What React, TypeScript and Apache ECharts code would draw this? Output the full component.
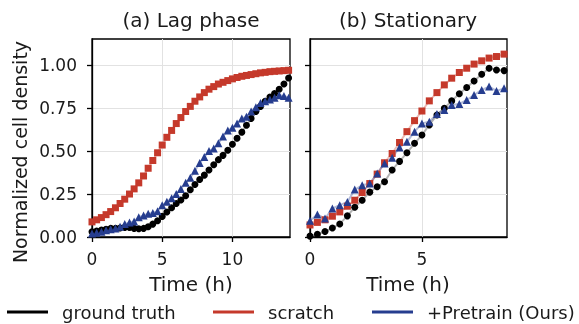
import React, { useEffect, useRef } from "react";
import * as echarts from "echarts";

// ---- data (time in hours, values = normalized cell density) ----
const lagTime = [0, 0.33, 0.67, 1, 1.33, 1.67, 2, 2.33, 2.67, 3, 3.33, 3.67, 4, 4.33, 4.67, 5, 5.33, 5.67, 6, 6.33, 6.67, 7, 7.33, 7.67, 8, 8.33, 8.67, 9, 9.33, 9.67, 10, 10.33, 10.67, 11, 11.33, 11.67, 12, 12.33, 12.67, 13, 13.33, 13.67, 14];
const lagTruth = [0.03, 0.035, 0.04, 0.045, 0.05, 0.05, 0.052, 0.055, 0.055, 0.05, 0.048, 0.05, 0.06, 0.075, 0.095, 0.12, 0.145, 0.17, 0.195, 0.215, 0.24, 0.275, 0.305, 0.335, 0.36, 0.39, 0.42, 0.45, 0.475, 0.505, 0.54, 0.575, 0.61, 0.65, 0.69, 0.73, 0.76, 0.79, 0.815, 0.835, 0.86, 0.89, 0.925];
const lagScratch = [0.088, 0.1, 0.113, 0.13, 0.148, 0.17, 0.195, 0.22, 0.25, 0.28, 0.315, 0.355, 0.4, 0.445, 0.49, 0.535, 0.58, 0.62, 0.66, 0.695, 0.73, 0.76, 0.79, 0.815, 0.84, 0.86, 0.875, 0.89, 0.9, 0.91, 0.92, 0.928, 0.935, 0.94, 0.945, 0.95, 0.955, 0.958, 0.962, 0.964, 0.966, 0.968, 0.97];
const lagPretrain = [0.02, 0.025, 0.03, 0.04, 0.045, 0.05, 0.06, 0.075, 0.085, 0.09, 0.115, 0.125, 0.135, 0.14, 0.15, 0.185, 0.205, 0.225, 0.25, 0.28, 0.315, 0.345, 0.385, 0.43, 0.465, 0.5, 0.515, 0.545, 0.585, 0.62, 0.635, 0.66, 0.69, 0.7, 0.73, 0.755, 0.78, 0.79, 0.8, 0.81, 0.825, 0.82, 0.81];

const statTime = [0, 0.33, 0.67, 1, 1.33, 1.67, 2, 2.33, 2.67, 3, 3.33, 3.67, 4, 4.33, 4.67, 5, 5.33, 5.67, 6, 6.33, 6.67, 7, 7.33, 7.67, 8, 8.33, 8.67];
const statTruth = [0.005, 0.016, 0.032, 0.052, 0.076, 0.123, 0.173, 0.214, 0.261, 0.292, 0.321, 0.39, 0.44, 0.49, 0.545, 0.593, 0.652, 0.71, 0.749, 0.792, 0.833, 0.87, 0.908, 0.947, 0.982, 0.972, 0.968];
const statScratch = [0.07, 0.085, 0.1, 0.121, 0.146, 0.179, 0.214, 0.259, 0.311, 0.366, 0.432, 0.486, 0.55, 0.613, 0.677, 0.733, 0.792, 0.84, 0.885, 0.924, 0.957, 0.982, 1.006, 1.025, 1.041, 1.05, 1.064];
const statPretrain = [0.094, 0.131, 0.107, 0.166, 0.185, 0.204, 0.276, 0.301, 0.311, 0.37, 0.428, 0.461, 0.521, 0.554, 0.613, 0.661, 0.671, 0.716, 0.739, 0.768, 0.774, 0.797, 0.826, 0.856, 0.875, 0.85, 0.865];

const yTicks = [0, 0.25, 0.5, 0.75, 1];
const lagXTicks = [0, 5, 10];
const statXTicks = [0, 5];

const seriesNames = ["ground truth", "scratch", "+Pretrain (Ours)"];
const panelTitles = ["(a) Lag phase", "(b) Stationary"];
const xTitle = "Time (h)";
const yTitle = "Normalized cell density";

const FONT = "DejaVu Sans";
const BLACK = "#000000";
const RED = "#c5392b";
const BLUE = "#263d8f";
const TEXT = "#1a1a1a";

const zip = (xs: number[], ys: number[]) => xs.map((x, i) => [x, ys[i]]);

export default function App() {
  const ref = useRef<HTMLDivElement>(null);
  useEffect(() => {
    if (!ref.current) return;
    const chart = echarts.init(ref.current, undefined, { renderer: "svg" });

    const grids = [
      { left: 92, top: 39, width: 198, height: 198 },
      { left: 310, top: 39, width: 197, height: 198 },
    ];

    const xAxis = (gi: number, max: number, ticks: number[]) => ({
      type: "value",
      gridIndex: gi,
      min: 0,
      max,
      interval: 5,
      axisLine: { show: true, lineStyle: { color: "#000", width: 1.3 } },
      axisTick: { show: true, length: 5, customValues: ticks, lineStyle: { color: "#000", width: 1.3 } },
      axisLabel: { customValues: ticks, fontSize: 17, color: TEXT, fontFamily: FONT, margin: 13 },
      splitLine: { show: true, lineStyle: { color: "#e2e2e2", width: 1 } },
    });
    const yAxis = (gi: number, showLabel: boolean) => ({
      type: "value",
      gridIndex: gi,
      min: 0,
      max: 1.152,
      interval: 0.25,
      axisLine: { show: true, lineStyle: { color: "#000", width: 1.3 } },
      axisTick: { show: true, length: 5, customValues: yTicks, lineStyle: { color: "#000", width: 1.3 } },
      axisLabel: {
        show: showLabel,
        customValues: yTicks,
        fontSize: 17,
        color: TEXT,
        fontFamily: FONT,
        margin: 15,
        formatter: (v: number) => v.toFixed(2),
      },
      splitLine: { show: true, lineStyle: { color: "#e2e2e2", width: 1 } },
    });

    const mk = (name: string, gi: number, xs: number[], ys: number[], color: string, lineColor: string, symbol: string, size: number) => ({
      name,
      type: "line",
      xAxisIndex: gi,
      yAxisIndex: gi,
      data: zip(xs, ys),
      symbol,
      symbolSize: size,
      showSymbol: true,
      clip: true,
      itemStyle: { color, opacity: 1 },
      lineStyle: { color: lineColor, width: 2 },
      emphasis: { disabled: true },
      z: 3,
    });

    const truthLine = "rgba(0,0,0,0.3)";
    const redLine = "rgba(197,57,43,0.35)";
    const blueLine = "rgba(38,61,143,0.35)";

    const legendPos = [7, 213, 372];
    const legendColors = [BLACK, RED, BLUE];

    chart.setOption({
      animation: false,
      textStyle: { fontFamily: FONT },
      grid: grids.map((g) => ({ ...g, show: true, borderColor: "#000", borderWidth: 1.3, backgroundColor: "transparent" })),
      xAxis: [xAxis(0, 14.1, lagXTicks), xAxis(1, 8.8, statXTicks)],
      yAxis: [yAxis(0, true), yAxis(1, false)],
      legend: seriesNames.map((n, i) => ({
        data: [n],
        left: legendPos[i],
        top: 303,
        padding: 0,
        icon: "rect",
        itemWidth: 41,
        itemHeight: 3,
        itemStyle: { color: legendColors[i] },
        textStyle: { fontSize: 18, color: TEXT, fontFamily: FONT, padding: [0, 0, 0, 9] },
        selectedMode: false,
      })),
      series: [
        mk(seriesNames[0], 0, lagTime, lagTruth, BLACK, truthLine, "circle", 7),
        mk(seriesNames[1], 0, lagTime, lagScratch, RED, redLine, "rect", 7),
        mk(seriesNames[2], 0, lagTime, lagPretrain, BLUE, blueLine, "triangle", 8),
        mk(seriesNames[0], 1, statTime, statTruth, BLACK, truthLine, "circle", 7),
        mk(seriesNames[1], 1, statTime, statScratch, RED, redLine, "rect", 7),
        mk(seriesNames[2], 1, statTime, statPretrain, BLUE, blueLine, "triangle", 8),
      ],
      graphic: [
        { type: "text", x: 191, y: 20, style: { text: panelTitles[0], fontSize: 20, fontFamily: FONT, fill: TEXT, textAlign: "center", textVerticalAlign: "middle" } },
        { type: "text", x: 408, y: 20, style: { text: panelTitles[1], fontSize: 20, fontFamily: FONT, fill: TEXT, textAlign: "center", textVerticalAlign: "middle" } },
        { type: "text", x: 191, y: 284, style: { text: xTitle, fontSize: 20, fontFamily: FONT, fill: TEXT, textAlign: "center", textVerticalAlign: "middle" } },
        { type: "text", x: 408, y: 284, style: { text: xTitle, fontSize: 20, fontFamily: FONT, fill: TEXT, textAlign: "center", textVerticalAlign: "middle" } },
        { type: "text", x: 20, y: 152, rotation: Math.PI / 2, style: { text: yTitle, fontSize: 19, fontFamily: FONT, fill: TEXT, textAlign: "center", textVerticalAlign: "middle" } },
      ],
    });
    return () => chart.dispose();
  }, []);
  return <div ref={ref} style={{ position: "fixed", left: 0, top: 0, width: 579, height: 324 }} />;
}
